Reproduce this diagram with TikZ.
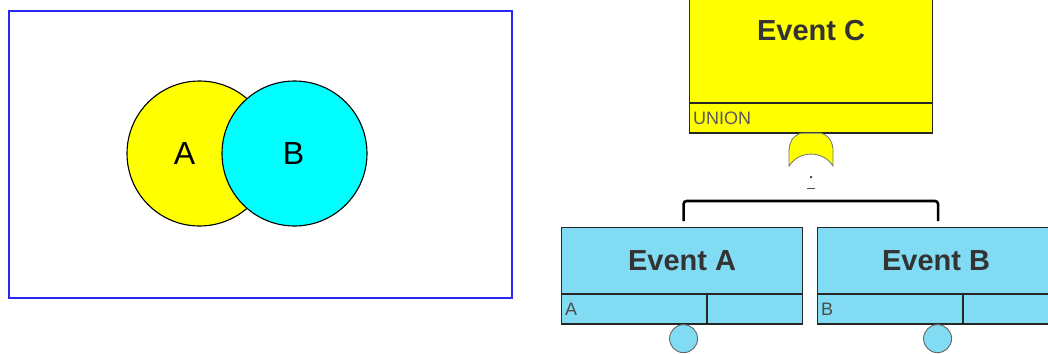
\documentclass[tikz,border=0pt]{standalone}
\usepackage{fontspec}
\setmainfont{Liberation Sans}
\usepackage{tikz}
\usetikzlibrary{calc,positioning}
\definecolor{evyellow}{RGB}{255, 255, 0}
\definecolor{evblue}{RGB}{128, 219, 243}
\definecolor{vncyan}{RGB}{0, 255, 255}
\definecolor{frameblue}{RGB}{40, 40, 240}

\tikzset{
  evbox/.style={draw=black!85, line width=1.1pt, minimum width=241pt, inner sep=0pt},
  evtitle/.style={font=\fontsize{29}{34}\selectfont\bfseries, text=black!80},
  evsmall/.style={font=\fontsize{18}{21}\selectfont, text=black!70, inner sep=0pt},
  vncircle/.style={circle, draw=black, line width=1.1pt, minimum size=145pt, inner sep=0pt},
  vnlabel/.style={font=\fontsize{32}{38}\selectfont, text=black},
  conn/.style={line width=2.6pt, black, rounded corners=3pt},
  xfer/.style={circle, draw=black!60, line width=0.9pt, fill=evblue, minimum size=28pt, inner sep=0pt}
}

\begin{document}
\begin{tikzpicture}[x=1pt, y=-1pt]
  \clip (0,0) rectangle (1048,353);
  \useasboundingbox (0,0) rectangle (1048,353);

  % Venn diagram
  \node[draw=frameblue, line width=1.6pt, minimum width=503pt, minimum height=287pt, anchor=north west] (frame) at (8,10) {};
  \node[vncircle, fill=evyellow] (cA) at (199.5,153.5) {};
  \node[vncircle, fill=vncyan] (cB) at (294.5,153.5) {};
  \node[vnlabel] (lA) at ($(cA)+(-15,0)$) {A};
  \node[vnlabel] (lB) at ($(cB)+(-1,0)$) {B};

  % Event C (top)
  \node[evbox, fill=evyellow, minimum width=243pt, minimum height=108pt, anchor=south west] (C) at (689,103) {};
  \node[evbox, fill=evyellow, minimum width=243pt, minimum height=29pt, anchor=north west] (Cs) at (C.south west) {};
  \draw[line width=2pt, black!85] (Cs.south west) -- (Cs.south east);
  \node[evtitle] (Ct) at ($(C.north)+(0,37)$) {Event C};
  \node[evsmall, text=black!65, anchor=west] (Cu) at ($(Cs.west)+(4,0)$) {UNION};

  % OR gate
  \coordinate (g) at (Cs.south);
  \draw[fill=evyellow, draw=black!55, line width=0.8pt]
    ($(g)+(-10,0)$) .. controls ($(g)+(-19,3)$) and ($(g)+(-22,10)$) .. ($(g)+(-22,18)$)
    -- ($(g)+(-22,33)$) .. controls ($(g)+(-12,17)$) and ($(g)+(12,17)$) .. ($(g)+(22,33)$)
    -- ($(g)+(22,18)$) .. controls ($(g)+(22,10)$) and ($(g)+(19,3)$) .. ($(g)+(10,0)$) -- cycle;
  \fill[black!80] ($(g)+(0,44)$) circle (1.3pt);
  \draw[black!70, line width=1.2pt] ($(g)+(-4,55)$) -- ($(g)+(4,55)$);

  % Event A
  \node[evbox, fill=evblue, minimum height=66pt, anchor=north west] (A) at (561,227) {};
  \node[evbox, fill=evblue, minimum height=29pt, anchor=north west] (As) at (A.south west) {};
  \draw[line width=1.1pt, black!85] ($(As.north west)+(146,0)$) -- ($(As.south west)+(146,0)$);
  \draw[line width=2pt, black!85] (As.south west) -- (As.south east);
  \node[evtitle] (At) at (A.center) {Event A};
  \node[evsmall, anchor=west] (Al) at ($(As.west)+(4,0)$) {A};
  \node[xfer, anchor=north] (Ax) at ($(As.south)+(1.5,0)$) {};

  % Event B
  \node[evbox, fill=evblue, minimum height=66pt, anchor=north west] (B) at (817,227) {};
  \node[evbox, fill=evblue, minimum height=29pt, anchor=north west] (Bs) at (B.south west) {};
  \draw[line width=1.1pt, black!85] ($(Bs.north west)+(146,0)$) -- ($(Bs.south west)+(146,0)$);
  \draw[line width=2pt, black!85] (Bs.south west) -- (Bs.south east);
  \node[evtitle] (Bt) at ($(B.center)+(-2,0)$) {Event B};
  \node[evsmall, anchor=west] (Bl) at ($(Bs.west)+(4,0)$) {B};
  \node[xfer, anchor=north] (Bx) at ($(Bs.south)+(-0.5,0)$) {};

  % connector
  \coordinate (bar) at (810,201);
  \draw[conn] ($(A.north)+(1.5,-6)$) |- (bar) -| ($(B.north)+(0,-6)$);
\end{tikzpicture}
\end{document}
